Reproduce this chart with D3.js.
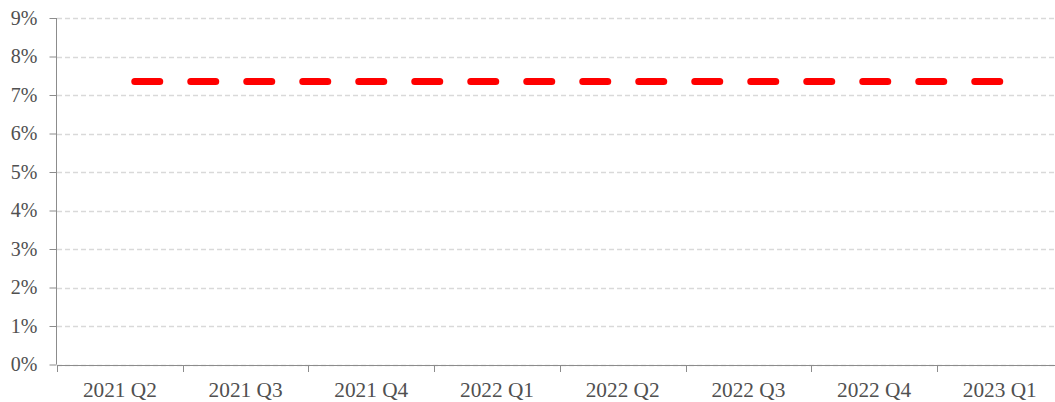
<!DOCTYPE html>
<html>
<head>
<meta charset="utf-8">
<script src="https://cdn.jsdelivr.net/npm/d3@7"></script>
<style>
  html, body { margin: 0; padding: 0; background: #fff; }
  svg { display: block; }
</style>
</head>
<body>
<svg id="chart" width="1055" height="402"></svg>
<script>
const categories = ["2021 Q2", "2021 Q3", "2021 Q4", "2022 Q1", "2022 Q2", "2022 Q3", "2022 Q4", "2023 Q1"];
const values = [7.35, 7.35, 7.35, 7.35, 7.35, 7.35, 7.35, 7.35];
const yTicks = [0, 1, 2, 3, 4, 5, 6, 7, 8, 9];

(function () {
const svg = d3.select("#chart");
const W = 1055;
const mLeft = 57, mRight = 1062.6, mTop = 18, mBottom = 364.5;

const x = d3.scaleBand().domain(categories).range([mLeft, mRight]).padding(0);
const y = d3.scaleLinear().domain([0, 9]).range([mBottom, mTop]);

const font = "'Times New Roman', 'Liberation Serif', serif";
const textColor = "#505050";
const axisColor = "#8c8c8c";

// gridlines
svg.append("g")
  .selectAll("line")
  .data(yTicks)
  .join("line")
  .attr("x1", mLeft).attr("x2", W)
  .attr("y1", d => Math.round(y(d)) + 0.5).attr("y2", d => Math.round(y(d)) + 0.5)
  .attr("stroke", "#d9d9d9")
  .attr("stroke-width", 1.3)
  .attr("stroke-dasharray", "5,3");

// y axis
const yAxis = svg.append("g")
  .attr("transform", `translate(${mLeft - 0.5},0)`)
  .call(d3.axisLeft(y).tickValues(yTicks).tickSize(7).tickPadding(12).tickFormat(d => d + "%"));
yAxis.select(".domain").attr("stroke", axisColor).attr("d", `M0,${mTop}V${mBottom}`);
yAxis.selectAll(".tick line").attr("stroke", axisColor);
yAxis.selectAll(".tick text")
  .attr("fill", textColor)
  .style("font-family", font)
  .style("font-size", "20px");

// x axis
const xAxis = svg.append("g")
  .attr("transform", `translate(0,${Math.round(mBottom) + 0.5})`)
  .call(d3.axisBottom(x).tickSize(0));
xAxis.select(".domain").attr("stroke", axisColor).attr("d", `M${mLeft},0H${W}`);
xAxis.selectAll(".tick text")
  .attr("fill", textColor)
  .attr("y", 31.5)
  .attr("dy", 0)
  .style("font-family", font)
  .style("font-size", "21.3px");

// x tick marks at category boundaries
svg.append("g")
  .selectAll("line")
  .data(categories)
  .join("line")
  .attr("x1", d => Math.round(x(d)) + 0.5)
  .attr("x2", d => Math.round(x(d)) + 0.5)
  .attr("y1", Math.round(mBottom))
  .attr("y2", Math.round(mBottom) + 7)
  .attr("stroke", axisColor);

// red dashed line (drawn from last point to first)
const pts = categories.map((c, i) => ({ c, v: values[i] })).reverse();
const line = d3.line()
  .x(d => x(d.c) + x.bandwidth() / 2)
  .y(d => y(d.v));
svg.append("path")
  .attr("d", line(pts))
  .attr("fill", "none")
  .attr("stroke", "#ff0000")
  .attr("stroke-width", 7)
  .attr("stroke-linecap", "round")
  .attr("stroke-dasharray", "25,31");
})();
</script>
</body>
</html>
